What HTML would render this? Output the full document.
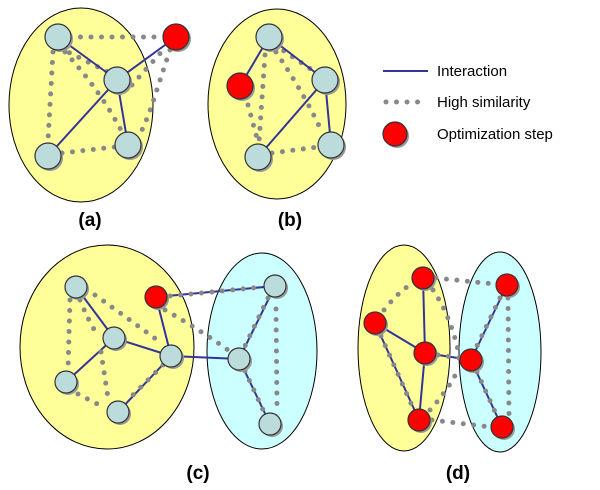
<!DOCTYPE html>
<html><head><meta charset="utf-8"><style>
html,body{margin:0;padding:0;background:#fff;width:600px;height:490px;overflow:hidden}
svg{display:block}
text{font-family:"Liberation Sans",Arial,sans-serif}
</style></head><body>
<svg width="600" height="490" viewBox="0 0 600 490" xmlns="http://www.w3.org/2000/svg">
<defs>
<style>
.e{stroke:#000;stroke-width:1}
.b{stroke:#333399;stroke-width:2;fill:none}
.d{stroke:#888;stroke-width:5;stroke-linecap:round;stroke-dasharray:0 10.5;fill:none}
.n{fill:#bcdcdc;stroke:#333;stroke-width:1.2}
.r{fill:#ff0000;stroke:#333;stroke-width:1.2}
.s{fill:#999}
.l{font-weight:bold;font-size:19px;fill:#000}
.t{font-size:15px;fill:#000}
</style>
</defs>

<!-- Panel (a) -->
<ellipse class="e" cx="81" cy="105" rx="72" ry="97" fill="#ffff99"/>
<path class="d" d="M70 37 L163 37"/>
<path class="d" d="M170 50 Q160 80 152 105 Q145 125 138 138"/>
<path class="d" d="M53 52 L48 140"/>
<path class="d" d="M62 153 L115 147"/>
<path class="d" d="M65 52 Q100 90 122 132"/>
<path class="d" d="M60 48 L112 74"/>
<path class="d" d="M132 85 L165 48"/>
<line class="b" x1="58" y1="37" x2="117" y2="80"/>
<line class="b" x1="117" y1="80" x2="48" y2="156"/>
<line class="b" x1="117" y1="80" x2="128" y2="145"/>
<line class="b" x1="117" y1="80" x2="176" y2="37"/>
<g>
<circle class="s" cx="60" cy="39" r="13"/><circle class="n" cx="58" cy="37" r="13"/>
<circle class="s" cx="119" cy="82" r="13"/><circle class="n" cx="117" cy="80" r="13"/>
<circle class="s" cx="50" cy="158" r="13"/><circle class="n" cx="48" cy="156" r="13"/>
<circle class="s" cx="130" cy="147" r="13"/><circle class="n" cx="128" cy="145" r="13"/>
<circle class="s" cx="178" cy="39" r="13"/><circle class="r" cx="176" cy="37" r="13"/>
</g>
<text class="l" x="90" y="226" text-anchor="middle">(a)</text>

<!-- Panel (b) -->
<ellipse class="e" cx="277" cy="104" rx="69" ry="95" fill="#ffff99"/>
<path class="d" d="M265 55 L259 142"/>
<path class="d" d="M272 153 L318 147"/>
<path class="d" d="M276 52 Q305 95 322 132"/>
<path class="d" d="M275 45 L315 72"/>
<path class="d" d="M248 105 L258 142"/>
<line class="b" x1="269" y1="37" x2="240" y2="86"/>
<line class="b" x1="269" y1="37" x2="325" y2="80"/>
<line class="b" x1="325" y1="80" x2="258" y2="157"/>
<line class="b" x1="325" y1="80" x2="331" y2="145"/>
<g>
<circle class="s" cx="271" cy="39" r="13"/><circle class="n" cx="269" cy="37" r="13"/>
<circle class="s" cx="327" cy="82" r="13"/><circle class="n" cx="325" cy="80" r="13"/>
<circle class="s" cx="260" cy="159" r="13"/><circle class="n" cx="258" cy="157" r="13"/>
<circle class="s" cx="333" cy="147" r="13"/><circle class="n" cx="331" cy="145" r="13"/>
<circle class="s" cx="242" cy="88" r="13"/><circle class="r" cx="240" cy="86" r="13"/>
</g>
<text class="l" x="290" y="226" text-anchor="middle">(b)</text>

<!-- Legend -->
<line x1="383" y1="71" x2="428" y2="71" stroke="#333399" stroke-width="2"/>
<text class="t" x="437" y="76">Interaction</text>
<path class="d" d="M386 102 L428 102"/>
<text class="t" x="437" y="107">High similarity</text>
<circle class="s" cx="397" cy="136" r="12"/><circle class="r" cx="395" cy="134" r="12"/>
<text class="t" x="437" y="139">Optimization step</text>

<!-- Panel (c) -->
<ellipse class="e" cx="107" cy="347" rx="87" ry="102" fill="#ffff99"/>
<ellipse class="e" cx="262" cy="351" rx="55" ry="98" fill="#ccffff"/>
<line class="b" x1="76" y1="287" x2="114" y2="338"/>
<line class="b" x1="114" y1="338" x2="66" y2="382"/>
<line class="b" x1="114" y1="338" x2="171" y2="356"/>
<line class="b" x1="156" y1="297" x2="171" y2="356"/>
<line class="b" x1="171" y1="356" x2="239" y2="359"/>
<line class="b" x1="156" y1="297" x2="275" y2="286"/>
<line class="b" x1="275" y1="286" x2="239" y2="359"/>
<line class="b" x1="239" y1="359" x2="270" y2="424"/>
<line class="b" x1="171" y1="356" x2="118" y2="412"/>
<path class="d" d="M170 296 L263 287"/>
<path class="d" d="M268 298 L244 348"/>
<path class="d" d="M245 371 L264 412"/>
<path class="d" d="M163 365 L126 402"/>
<path class="d" d="M70 300 L68 370"/>
<path class="d" d="M80 300 Q88 320 98 336"/>
<path class="d" d="M95 295 Q130 320 160 342"/>
<path class="d" d="M78 394 L105 408"/>
<path class="d" d="M101 352 L108 398"/>
<path class="d" d="M165 310 Q200 330 228 350"/>
<path class="d" d="M276 309 L277 405"/>
<g>
<circle class="s" cx="78" cy="289" r="11"/><circle class="n" cx="76" cy="287" r="11"/>
<circle class="s" cx="116" cy="340" r="11"/><circle class="n" cx="114" cy="338" r="11"/>
<circle class="s" cx="173" cy="358" r="11"/><circle class="n" cx="171" cy="356" r="11"/>
<circle class="s" cx="68" cy="384" r="11"/><circle class="n" cx="66" cy="382" r="11"/>
<circle class="s" cx="120" cy="414" r="11"/><circle class="n" cx="118" cy="412" r="11"/>
<circle class="s" cx="277" cy="288" r="11"/><circle class="n" cx="275" cy="286" r="11"/>
<circle class="s" cx="241" cy="361" r="11"/><circle class="n" cx="239" cy="359" r="11"/>
<circle class="s" cx="272" cy="426" r="11"/><circle class="n" cx="270" cy="424" r="11"/>
<circle class="s" cx="158" cy="299" r="11"/><circle class="r" cx="156" cy="297" r="11"/>
</g>
<text class="l" x="198" y="479" text-anchor="middle">(c)</text>

<!-- Panel (d) -->
<ellipse class="e" cx="404" cy="348" rx="46" ry="103" fill="#ffff99"/>
<ellipse class="e" cx="500" cy="352" rx="41" ry="100" fill="#ccffff"/>
<line class="b" x1="423" y1="278" x2="425" y2="353"/>
<line class="b" x1="375" y1="323" x2="425" y2="353"/>
<line class="b" x1="425" y1="353" x2="419" y2="420"/>
<line class="b" x1="375" y1="323" x2="419" y2="420"/>
<line class="b" x1="425" y1="353" x2="471" y2="360"/>
<line class="b" x1="507" y1="285" x2="471" y2="360"/>
<line class="b" x1="471" y1="360" x2="502" y2="427"/>
<path class="d" d="M381 336 L413 408"/>
<path class="d" d="M500 298 L476 348"/>
<path class="d" d="M477 372 L496 414"/>
<path class="d" d="M438 355 L460 358"/>
<path class="d" d="M436 278 L494 284"/>
<path class="d" d="M384 310 Q400 290 412 284"/>
<path class="d" d="M433 290 Q450 315 458 350"/>
<path class="d" d="M432 420 L490 427"/>
<path class="d" d="M508 298 L509 414"/>
<path class="d" d="M430 410 Q448 390 458 370"/>
<g>
<circle class="s" cx="425" cy="280" r="11"/><circle class="r" cx="423" cy="278" r="11"/>
<circle class="s" cx="377" cy="325" r="11"/><circle class="r" cx="375" cy="323" r="11"/>
<circle class="s" cx="427" cy="355" r="11"/><circle class="r" cx="425" cy="353" r="11"/>
<circle class="s" cx="421" cy="422" r="11"/><circle class="r" cx="419" cy="420" r="11"/>
<circle class="s" cx="509" cy="287" r="11"/><circle class="r" cx="507" cy="285" r="11"/>
<circle class="s" cx="473" cy="362" r="11"/><circle class="r" cx="471" cy="360" r="11"/>
<circle class="s" cx="504" cy="429" r="11"/><circle class="r" cx="502" cy="427" r="11"/>
</g>
<text class="l" x="458" y="479" text-anchor="middle">(d)</text>
</svg>
</body></html>
